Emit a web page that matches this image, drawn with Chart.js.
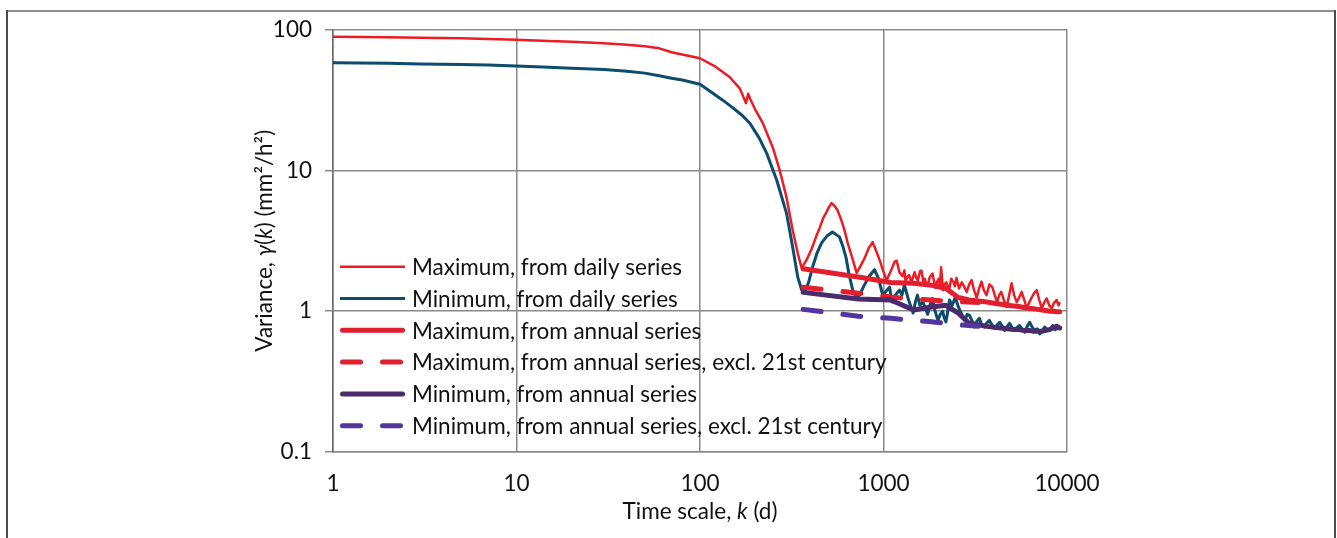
<!DOCTYPE html>
<html><head><meta charset="utf-8">
<script src="https://cdn.jsdelivr.net/npm/chart.js@4.4.0/dist/chart.umd.min.js"></script>
<style>html,body{margin:0;padding:0;background:#fff;}canvas{display:block;}</style>
</head><body>
<canvas id="c" width="1337" height="538"></canvas>
<script>
// ---------- data ----------
const xTicks = [1, 10, 100, 1000, 10000];
const yTicks = [0.1, 1, 10, 100];
const xTitle = [["Time scale, ", false], ["k", true], [" (d)", false]];
const yTitle = [["Variance, ", false], ["γ", true], ["(", false], ["k", true], [") (mm²/h²)", false]];
const seriesLabels = [
  "Maximum, from daily series",
  "Minimum, from daily series",
  "Maximum, from annual series",
  "Maximum, from annual series, excl. 21st century",
  "Minimum, from annual series",
  "Minimum, from annual series, excl. 21st century"
];

const kMaxDaily = [1,2,3,5,7,10,15,20,30,40,50,60,70,80,100,120,145,165,178,183,188,200,220,249,272,296,320,341,358,380,405,430,449,470,489,505,521,540,562,590,614,640,670,714,750,789,830,873,910,953,1000,
  1040,1080,1110,1150,1180,1220,1270,1300,1320,1350,1380,1420,1476,1510,1540,1580,1610,1650,1680,1710,1740,1790,1850,1890,1920,1960,2000,2030,2060,2110,2150,2200,2240,2290,2340,2400,2450,2500,2580,2670,2750,2840,2930,3020,3120,3220,3320,3420,3530,3640,3780,3920,4040,4160,4270,4380,4530,4690,4840,4990,5150,5320,5490,5660,5850,6030,6220,6420,6630,6840,7060,7280,7510,7750,8000,8250,8510,8780,9000,9130];
const vMaxDaily = [89,88,87.5,86.5,85.5,84.5,83,82,80,78,76,73.5,69,66.5,62.5,55,46,38,30,35,32,27,21.6,14.6,10.0,6.45,3.76,2.58,2.02,2.3,2.75,3.4,3.9,4.6,5.05,5.5,5.85,5.6,5.2,4.4,3.73,3.0,2.48,1.87,2.1,2.38,2.8,3.09,2.7,2.3,1.9,
  1.66,1.85,2.0,2.25,2.28,1.9,1.77,1.95,1.62,1.75,1.8,1.6,1.89,1.72,1.65,1.92,1.94,1.6,1.7,1.55,1.53,1.75,1.85,1.6,1.46,1.62,1.7,1.5,2.05,1.41,1.55,1.6,1.5,1.46,1.7,1.62,1.5,1.72,1.45,1.60,1.5,1.37,1.55,1.66,1.4,1.25,1.45,1.62,1.4,1.3,1.55,1.48,1.3,1.16,1.3,1.37,1.2,1.07,1.3,1.58,1.3,1.16,1.25,1.37,1.2,1.05,1.15,1.25,1.35,1.41,1.2,1.05,1.15,1.23,1.1,1.05,1.15,1.20,1.1,1.16];

const kMinDaily = [1,2,3,5,7,10,15,20,30,40,50,60,70,80,100,115,133,150,170,187,210,231,262,296,320,341,358,375,390,410,435,460,490,527,575,600,625,650,680,710,740,780,830,893,940,
  990,1040,1080,1110,1160,1220,1260,1300,1370,1450,1490,1530,1580,1640,1690,1740,1790,1850,1910,1980,2040,2100,2140,2190,2240,2290,2370,2460,2540,2620,2700,2770,2860,2950,3040,3130,3230,3330,3430,3540,3650,3770,3900,4036,4170,4300,4440,4575,4720,4870,5030,5190,5350,5520,5700,5880,6070,6260,6460,6660,6880,7100,7330,7560,7800,8040,8200,8350,8620,8890];
const vMinDaily = [58,57.5,57,56.5,56,55,54,53,52,50.5,49,47,45,43.8,40.8,36,31.5,28,24.5,21.6,17,13.2,8.5,4.97,2.84,1.74,1.42,1.4,1.59,2.04,2.6,3.05,3.4,3.65,3.37,2.9,2.4,1.8,1.41,1.25,1.3,1.5,1.75,1.97,1.7,
  1.30,1.4,1.48,1.16,1.3,1.41,1.3,1.53,1.2,0.97,1.15,1.3,1.1,1.16,1.05,0.95,1.1,1.23,1.0,0.86,0.95,1.0,0.9,0.84,1.0,1.2,1.1,1.25,1.1,1.0,0.92,0.86,0.95,0.93,0.85,0.77,0.85,0.89,0.8,0.77,0.82,0.86,0.8,0.756,0.8,0.834,0.78,0.73,0.78,0.82,0.76,0.73,0.77,0.79,0.74,0.71,0.78,0.834,0.77,0.73,0.75,0.69,0.73,0.77,0.74,0.73,0.76,0.79,0.74,0.756];

const kAnnual = [365,730,1095,1460,1825,2190,2555,2920,3285,3650,4015,4380,4745,5110,5475,5840,6205,6570,6935,7300,7665,8030,8395,8760,9125];
const vMaxAnnual = [2.0,1.75,1.6,1.58,1.53,1.45,1.25,1.2,1.18,1.16,1.14,1.12,1.1,1.09,1.08,1.06,1.05,1.04,1.03,1.02,1.01,1.0,1.0,0.99,0.99];
const vMinAnnual = [1.36,1.22,1.2,1.02,1.07,1.1,0.97,0.82,0.8,0.78,0.77,0.76,0.75,0.74,0.74,0.73,0.73,0.72,0.72,0.72,0.73,0.74,0.76,0.78,0.76];

const kAnnualExcl = [365,730,1095,1460,1825,2190,2555,2920,3285];
const vMaxAnnualExcl = [1.48,1.34,1.26,1.22,1.2,1.18,1.17,1.16,1.15];
const vMinAnnualExcl = [1.03,0.92,0.89,0.86,0.84,0.82,0.80,0.79,0.78];

// ---------- build ----------
const FONT = "Lato, 'Noto Sans', sans-serif";
const FS = 22.5;
const TXT = '#111';
const pts = (ks, vs) => ks.map((k, i) => ({ x: k, y: vs[i] }));
const styles = [
  { borderColor: '#ED1C24', borderWidth: 2.5 },
  { borderColor: '#0D4C6D', borderWidth: 3 },
  { borderColor: '#E21F2D', borderWidth: 5, borderCapStyle: 'round' },
  { borderColor: '#E21F2D', borderWidth: 5, borderDash: [18, 22], borderCapStyle: 'round' },
  { borderColor: '#4A2B6B', borderWidth: 5, borderCapStyle: 'round' },
  { borderColor: '#5236A0', borderWidth: 5, borderDash: [18, 22], borderCapStyle: 'round' }
];
const seriesData = [
  pts(kMaxDaily, vMaxDaily), pts(kMinDaily, vMinDaily),
  pts(kAnnual, vMaxAnnual), pts(kAnnualExcl, vMaxAnnualExcl),
  pts(kAnnual, vMinAnnual), pts(kAnnualExcl, vMinAnnualExcl)
];
const datasets = seriesLabels.map((lab, i) => Object.assign({
  label: lab, data: seriesData[i], pointRadius: 0, tension: 0, fill: false,
  borderJoinStyle: 'round', order: 5 - i
}, styles[i]));

const framePlugin = {
  id: 'frame',
  beforeDraw(chart) {
    const c = chart.ctx;
    c.save();
    c.fillStyle = '#fff'; c.fillRect(0, 0, chart.width, chart.height);
    c.lineWidth = 2;
    c.strokeStyle = '#8f8f8f';
    c.beginPath(); c.moveTo(6, 11); c.lineTo(1335, 11); c.stroke();
    c.strokeStyle = '#4a4a4a';
    c.beginPath(); c.moveTo(7, 10); c.lineTo(7, 538); c.stroke();
    c.beginPath(); c.moveTo(1335, 10); c.lineTo(1335, 538); c.stroke();
    c.restore();
  }
};

function drawRich(c, segs, size) {
  let total = 0;
  const ws = segs.map(([t, it]) => { c.font = (it ? 'italic ' : '') + size + 'px ' + FONT; const w = c.measureText(t).width; total += w; return w; });
  let x = -total / 2;
  segs.forEach(([t, it], i) => { c.font = (it ? 'italic ' : '') + size + 'px ' + FONT; c.fillText(t, x, 0); x += ws[i]; });
}

const titlesPlugin = {
  id: 'titles',
  afterDraw(chart) {
    const c = chart.ctx, a = chart.chartArea;
    c.save();
    c.fillStyle = TXT; c.textBaseline = 'alphabetic'; c.textAlign = 'left';
    c.save(); c.translate((a.left + a.right) / 2, 519); drawRich(c, xTitle, FS); c.restore();
    c.save(); c.translate(271.5, (a.top + a.bottom) / 2); c.rotate(-Math.PI / 2); drawRich(c, yTitle, FS); c.restore();
    c.restore();
  }
};

const legendPlugin = {
  id: 'insideLegend',
  afterDatasetsDraw(chart) {
    const c = chart.ctx;
    c.save();
    chart.data.datasets.forEach((ds, i) => {
      const y = 266.7 + i * 31.8;
      c.strokeStyle = ds.borderColor; c.lineWidth = ds.borderWidth;
      c.lineCap = ds.borderCapStyle || 'butt';
      c.setLineDash(ds.borderDash || []);
      c.beginPath();
      if (ds.borderWidth >= 4) { c.moveTo(342.5, y); c.lineTo(402.5, y); } else { c.moveTo(340, y); c.lineTo(405, y); }
      c.stroke();
      c.setLineDash([]);
      c.fillStyle = TXT; c.font = FS + 'px ' + FONT;
      c.textBaseline = 'middle'; c.textAlign = 'left';
      c.fillText(ds.label, 412, y + 1);
    });
    c.restore();
  }
};

new Chart(document.getElementById('c'), {
  type: 'line',
  data: { datasets },
  plugins: [framePlugin, legendPlugin, titlesPlugin],
  options: {
    responsive: false, animation: false, events: [],
    layout: { padding: { top: 29.5, right: 270, left: 0, bottom: 0 } },
    plugins: { legend: { display: false }, tooltip: { enabled: false }, title: { display: false } },
    scales: {
      x: {
        type: 'logarithmic', min: 1, max: 10000,
        afterBuildTicks: s => { s.ticks = xTicks.map(v => ({ value: v })); },
        afterFit: s => { s.height = 86; },
        grid: { color: '#8a8a8a', lineWidth: 1.5, drawTicks: false },
        border: { color: '#8a8a8a', width: 1.5 },
        ticks: { font: { family: FONT, size: FS }, color: TXT, padding: 18, maxRotation: 0, autoSkip: false, callback: v => String(v) }
      },
      y: {
        type: 'logarithmic', min: 0.1, max: 100,
        afterBuildTicks: s => { s.ticks = yTicks.map(v => ({ value: v })); },
        afterFit: s => { s.width = 333; },
        grid: { color: '#8a8a8a', lineWidth: 1.5, tickLength: 8 },
        border: { color: '#6a6a6a', width: 1.5 },
        ticks: { font: { family: FONT, size: FS }, color: TXT, padding: 13, autoSkip: false, callback: v => String(v) }
      }
    }
  }
});
</script>
</body></html>
